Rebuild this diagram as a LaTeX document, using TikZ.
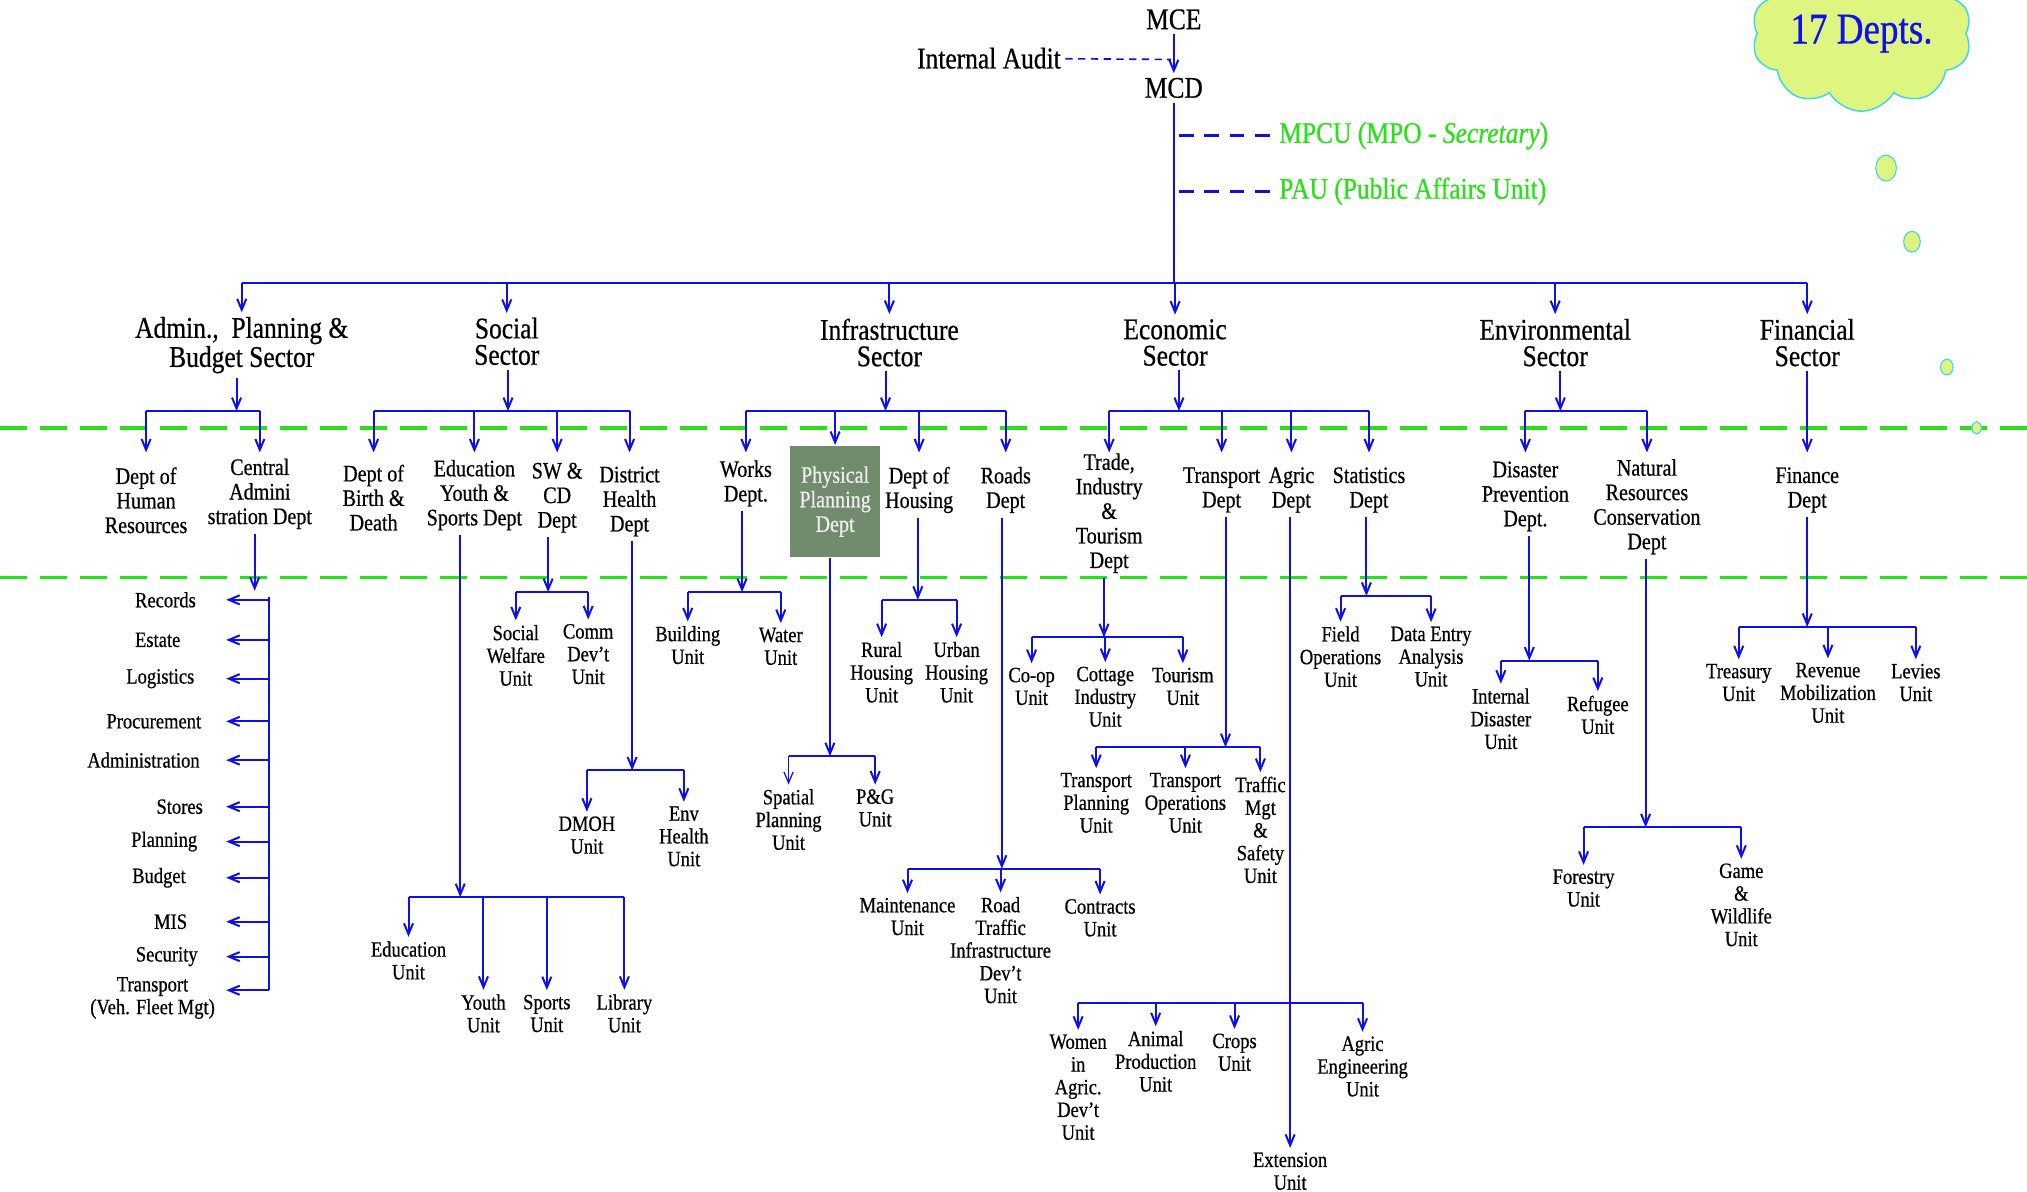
\documentclass[tikz,border=0pt]{standalone}
\usepackage{fontspec}
\setmainfont{Liberation Serif}[FakeStretch=0.85, FakeBold=0.6]
\usepackage{tikz}
\usetikzlibrary{arrows.meta}
\usetikzlibrary{shapes}

\definecolor{linkblue}{RGB}{15,15,235}
\definecolor{sepgreen}{RGB}{40,225,25}
\definecolor{boxgreen}{RGB}{112,140,108}
\definecolor{cloudfill}{RGB}{222,246,128}
\definecolor{cloudline}{RGB}{60,215,235}

\tikzset{
  sector/.style={align=center, font=\fontsize{16.5}{14.5}\selectfont, inner sep=2pt},
  dept/.style={align=center, font=\fontsize{13}{13.5}\selectfont, inner sep=2pt},
  unit/.style={align=center, font=\fontsize{12}{12.5}\selectfont, inner sep=2pt},
  sepline/.style={draw=sepgreen, line width=1.8pt, dash pattern=on 15pt off 7pt},
  bubble/.style={draw=cloudline, fill=cloudfill, line width=0.6pt},
}

\begin{document}
\begin{tikzpicture}[x=0.025cm, y=-0.025cm, draw=linkblue, line width=1.1pt, >={Straight Barb[length=6pt,width=5pt]}]

    \useasboundingbox (0,0) rectangle (1568,922);

    \draw[sepline] (0,331) -- (1568,331);
    \draw[sepline] (0,447) -- (1568,447);

    \node[cloud, cloud puffs=10, cloud puff arc=120, cloud ignores aspect, draw=cloudline, fill=cloudfill, line width=0.8pt, text=linkblue, font=\fontsize{24}{24}\selectfont, minimum width=4.1cm, minimum height=3cm] (depts) at (1440,26) {17 Depts.};
    \draw[bubble] (1459,130) ellipse [x radius=0.2cm, y radius=0.25cm];
    \draw[bubble] (1479,187) ellipse [x radius=0.16cm, y radius=0.2cm];
    \draw[bubble] (1506,284) ellipse [x radius=0.12cm, y radius=0.15cm];
    \draw[bubble] (1529,331) ellipse [x radius=0.09cm, y radius=0.12cm];

    \node[sector] (mce) at (908,15) {MCE};
    \node[sector] (mcd) at (908,68) {MCD};
    \node[sector] (audit) at (765,45) {Internal Audit};
    \node[sector, text=sepgreen, anchor=west] (mpcu) at (986,105) {MPCU (MPO - \textit{Secretary})};
    \node[sector, text=sepgreen, anchor=west] (pau) at (986,148) {PAU (Public Affairs Unit)};

    \node[sector] (admin) at (187,267) {Admin.,\ \ Planning \&\\Budget Sector};
    \node[sector] (social) at (392,264) {Social\\Sector};
    \node[sector] (infra) at (688,265) {Infrastructure\\Sector};
    \node[sector] (econ) at (909,265) {Economic\\Sector};
    \node[sector] (env) at (1203,265) {Environmental\\Sector};
    \node[sector] (fin) at (1398,265) {Financial\\Sector};

    \node[dept] (hr) at (113,387) {Dept of\\Human\\Resources};
    \node[dept] (cad) at (201,382) {Central\\Admini\\stration Dept};
    \node[dept] (birth) at (289,385) {Dept of\\Birth \&\\Death};
    \node[dept] (edu) at (367,383) {Education\\Youth \&\\Sports Dept};
    \node[dept] (swcd) at (431,385) {SW \&\\CD\\Dept};
    \node[dept] (dhd) at (487,388) {District\\Health\\Dept};
    \node[dept] (works) at (577,374) {Works\\Dept.};
    \node[dept, fill=boxgreen, text=gray!12, minimum width=1.75cm, minimum height=2.15cm] (ppd) at (646,388) {Physical\\Planning\\Dept};
    \node[dept] (housing) at (711,379) {Dept of\\Housing};
    \node[dept] (roads) at (778,379) {Roads\\Dept};
    \node[dept] (trade) at (858,397) {Trade,\\Industry\\\&\\Tourism\\Dept};
    \node[dept] (transp) at (945,379) {Transport\\Dept};
    \node[dept] (agric) at (999,379) {Agric\\Dept};
    \node[dept] (stats) at (1059,379) {Statistics\\Dept};
    \node[dept] (disaster) at (1180,384) {Disaster\\Prevention\\Dept.};
    \node[dept] (natres) at (1274,392) {Natural\\Resources\\Conservation\\Dept};
    \node[dept] (finance) at (1398,379) {Finance\\Dept};

    \node[unit] (rec) at (128,464) {Records};
    \node[unit] (est) at (122,495) {Estate};
    \node[unit] (logi) at (124,525) {Logistics};
    \node[unit] (proc) at (119,558) {Procurement};
    \node[unit] (adm) at (111,588) {Administration};
    \node[unit] (sto) at (139,624) {Stores};
    \node[unit] (plan) at (127,651) {Planning};
    \node[unit] (bud) at (123,679) {Budget};
    \node[unit] (mis) at (132,713) {MIS};
    \node[unit] (sec) at (129,740) {Security};
    \node[unit] (trans) at (118,772) {Transport\\(Veh. Fleet Mgt)};

    \node[unit] (swu) at (399,507) {Social\\Welfare\\Unit};
    \node[unit] (cdu) at (455,506) {Comm\\Dev't\\Unit};
    \node[unit] (dmoh) at (454,646) {DMOH\\Unit};
    \node[unit] (envh) at (529,647) {Env\\Health\\Unit};
    \node[unit] (eduu) at (316,743) {Education\\Unit};
    \node[unit] (youth) at (374,784) {Youth\\Unit};
    \node[unit] (sports) at (423,784) {Sports\\Unit};
    \node[unit] (lib) at (483,784) {Library\\Unit};
    \node[unit] (build) at (532,499) {Building\\Unit};
    \node[unit] (water) at (604,500) {Water\\Unit};
    \node[unit] (spatial) at (610,634) {Spatial\\Planning\\Unit};
    \node[unit] (pg) at (677,625) {P\&G\\Unit};
    \node[unit] (rural) at (682,520) {Rural\\Housing\\Unit};
    \node[unit] (urban) at (740,520) {Urban\\Housing\\Unit};
    \node[unit] (maint) at (702,709) {Maintenance\\Unit};
    \node[unit] (rtid) at (774,735) {Road\\Traffic\\Infrastructure\\Dev't\\Unit};
    \node[unit] (contr) at (851,710) {Contracts\\Unit};
    \node[unit] (coop) at (798,531) {Co-op\\Unit};
    \node[unit] (cottage) at (855,539) {Cottage\\Industry\\Unit};
    \node[unit] (tourism) at (915,531) {Tourism\\Unit};
    \node[unit] (tplan) at (848,621) {Transport\\Planning\\Unit};
    \node[unit] (tops) at (917,621) {Transport\\Operations\\Unit};
    \node[unit] (traffic) at (975,642) {Traffic\\Mgt\\\&\\Safety\\Unit};
    \node[unit] (women) at (834,841) {Women\\in\\Agric.\\Dev't\\Unit};
    \node[unit] (animal) at (894,821) {Animal\\Production\\Unit};
    \node[unit] (crops) at (955,814) {Crops\\Unit};
    \node[unit] (agreng) at (1054,825) {Agric\\Engineering\\Unit};
    \node[unit] (ext) at (998,906) {Extension\\Unit};
    \node[unit] (field) at (1037,508) {Field\\Operations\\Unit};
    \node[unit] (dataentry) at (1107,508) {Data Entry\\Analysis\\Unit};
    \node[unit] (intdis) at (1161,556) {Internal\\Disaster\\Unit};
    \node[unit] (refugee) at (1236,553) {Refugee\\Unit};
    \node[unit] (forestry) at (1225,687) {Forestry\\Unit};
    \node[unit] (game) at (1347,700) {Game\\\&\\Wildlife\\Unit};
    \node[unit] (treasury) at (1345,528) {Treasury\\Unit};
    \node[unit] (revenue) at (1414,536) {Revenue\\Mobilization\\Unit};
    \node[unit] (levies) at (1482,528) {Levies\\Unit};

    % junctions
    \coordinate (audit-j) at (906,46);
    \coordinate (mpcu-j) at (912,105);
    \coordinate (pau-j) at (912,148);
    \coordinate (bus) at (907,219);
    \coordinate (dtip) at (0,350);
    \coordinate (admin-j) at (183,318);
    \coordinate (social-j) at (393,318);
    \coordinate (infra-j) at (685,318);
    \coordinate (econ-j) at (912,318);
    \coordinate (env-j) at (1207,318);
    \coordinate (cad-j) at (197,457);
    \coordinate (list-t) at (208,462);
    \coordinate (list-b) at (208,766);
    \coordinate (list-tip) at (175,0);
    \coordinate (swcd-j) at (424,458);
    \coordinate (dhd-j) at (489,596);
    \coordinate (edu-j) at (356,694);
    \coordinate (works-j) at (574,458);
    \coordinate (ppd-j) at (642,585);
    \coordinate (housing-j) at (710,464);
    \coordinate (roads-j) at (775,672);
    \coordinate (trade-j) at (854,493);
    \coordinate (transp-j) at (948,578);
    \coordinate (agric-j) at (997,776);
    \coordinate (stats-j) at (1057,461);
    \coordinate (disaster-j) at (1183,511);
    \coordinate (natres-j) at (1273,640);
    \coordinate (finance-j) at (1398,485);

    % Edges
    \draw[->] (mce) -- (mcd);
    \draw[line width=0.9pt, dash pattern=on 4pt off 3pt] (audit) -- (audit-j);
    \draw (mcd) -- (mcd |- bus);
    \draw[line width=1.5pt, dash pattern=on 8pt off 6pt] (mpcu-j) -- (mpcu);
    \draw[line width=1.5pt, dash pattern=on 8pt off 6pt] (pau-j) -- (pau);

    \draw (admin |- bus) -- (fin |- bus);
    \draw[->] (admin |- bus) -- (admin);
    \draw[->] (social |- bus) -- (social);
    \draw[->] (infra |- bus) -- (infra);
    \draw[->] (econ |- bus) -- (econ);
    \draw[->] (env |- bus) -- (env);
    \draw[->] (fin |- bus) -- (fin);

    \draw[->] (admin.south -| admin-j) -- (admin-j);
    \draw (hr |- admin-j) -- (cad |- admin-j);
    \draw[->] (hr |- admin-j) -- (hr |- dtip);
    \draw[->] (cad |- admin-j) -- (cad |- dtip);

    \draw[->] (social.south -| social-j) -- (social-j);
    \draw (birth |- social-j) -- (dhd |- social-j);
    \draw[->] (birth |- social-j) -- (birth |- dtip);
    \draw[->] (edu |- social-j) -- (edu |- dtip);
    \draw[->] (swcd |- social-j) -- (swcd |- dtip);
    \draw[->] (dhd |- social-j) -- (dhd |- dtip);

    \draw[->] (infra.south -| infra-j) -- (infra-j);
    \draw (works |- infra-j) -- (roads |- infra-j);
    \draw[->] (works |- infra-j) -- (works |- dtip);
    \draw[->] (ppd |- infra-j) -- (ppd);
    \draw[->] (housing |- infra-j) -- (housing |- dtip);
    \draw[->] (roads |- infra-j) -- (roads |- dtip);

    \draw[->] (econ.south -| econ-j) -- (econ-j);
    \draw (trade |- econ-j) -- (stats |- econ-j);
    \draw[->] (trade |- econ-j) -- (trade |- dtip);
    \draw[->] (transp |- econ-j) -- (transp |- dtip);
    \draw[->] (agric |- econ-j) -- (agric |- dtip);
    \draw[->] (stats |- econ-j) -- (stats |- dtip);

    \draw[->] (env.south -| env-j) -- (env-j);
    \draw (disaster |- env-j) -- (natres |- env-j);
    \draw[->] (disaster |- env-j) -- (disaster |- dtip);
    \draw[->] (natres |- env-j) -- (natres |- dtip);

    \draw[->] (fin) -- (finance |- dtip);

    \draw[->] (cad.south -| cad-j) -- (cad-j);
    \draw (list-t) -- (list-b);
    \draw[->] (rec -| list-t) -- (rec -| list-tip);
    \draw[->] (est -| list-t) -- (est -| list-tip);
    \draw[->] (logi -| list-t) -- (logi -| list-tip);
    \draw[->] (proc -| list-t) -- (proc -| list-tip);
    \draw[->] (adm -| list-t) -- (adm -| list-tip);
    \draw[->] (sto -| list-t) -- (sto -| list-tip);
    \draw[->] (plan -| list-t) -- (plan -| list-tip);
    \draw[->] (bud -| list-t) -- (bud -| list-tip);
    \draw[->] (mis -| list-t) -- (mis -| list-tip);
    \draw[->] (sec -| list-t) -- (sec -| list-tip);
    \draw[->] (list-b) -- (list-b -| list-tip);

    \draw[->] (swcd.south -| swcd-j) -- (swcd-j);
    \draw (swu |- swcd-j) -- (cdu |- swcd-j);
    \draw[->] (swu |- swcd-j) -- (swu);
    \draw[->] (cdu |- swcd-j) -- (cdu);

    \draw[->] (dhd.south -| dhd-j) -- (dhd-j);
    \draw (dmoh |- dhd-j) -- (envh |- dhd-j);
    \draw[->] (dmoh |- dhd-j) -- (dmoh);
    \draw[->] (envh |- dhd-j) -- (envh);

    \draw[->] (edu.south -| edu-j) -- (edu-j);
    \draw[line width=0.8pt] (eduu |- edu-j) -- (lib |- edu-j);
    \draw[->] (eduu |- edu-j) -- (eduu);
    \draw[->] (youth |- edu-j) -- (youth);
    \draw[->] (sports |- edu-j) -- (sports);
    \draw[->] (lib |- edu-j) -- (lib);

    \draw[->] (works.south -| works-j) -- (works-j);
    \draw (build |- works-j) -- (water |- works-j);
    \draw[->] (build |- works-j) -- (build);
    \draw[->] (water |- works-j) -- (water);

    \draw[->] (ppd.south -| ppd-j) -- (ppd-j);
    \draw (spatial |- ppd-j) -- (pg |- ppd-j);
    \draw[->, line width=0.7pt] (spatial |- ppd-j) -- (spatial);
    \draw[->] (pg |- ppd-j) -- (pg);

    \draw[->] (housing.south -| housing-j) -- (housing-j);
    \draw (rural |- housing-j) -- (urban |- housing-j);
    \draw[->] (rural |- housing-j) -- (rural);
    \draw[->] (urban |- housing-j) -- (urban);

    \draw[->] (roads.south -| roads-j) -- (roads-j);
    \draw (maint |- roads-j) -- (contr |- roads-j);
    \draw[->] (maint |- roads-j) -- (maint);
    \draw[->] (rtid |- roads-j) -- (rtid);
    \draw[->] (contr |- roads-j) -- (contr);

    \draw[->] (trade.south -| trade-j) -- (trade-j);
    \draw (coop |- trade-j) -- (tourism |- trade-j);
    \draw[->] (coop |- trade-j) -- (coop);
    \draw[->] (cottage |- trade-j) -- (cottage);
    \draw[->] (tourism |- trade-j) -- (tourism);

    \draw[->] (transp.south -| transp-j) -- (transp-j);
    \draw (tplan |- transp-j) -- (traffic |- transp-j);
    \draw[->] (tplan |- transp-j) -- (tplan);
    \draw[->] (tops |- transp-j) -- (tops);
    \draw[->] (traffic |- transp-j) -- (traffic);

    \draw[->] (agric.south -| ext) -- (ext);
    \draw (women |- agric-j) -- (agreng |- agric-j);
    \draw[->] (women |- agric-j) -- (women);
    \draw[->] (animal |- agric-j) -- (animal);
    \draw[->] (crops |- agric-j) -- (crops);
    \draw[->] (agreng |- agric-j) -- (agreng);

    \draw[->] (stats.south -| stats-j) -- (stats-j);
    \draw (field |- stats-j) -- (dataentry |- stats-j);
    \draw[->] (field |- stats-j) -- (field);
    \draw[->] (dataentry |- stats-j) -- (dataentry);

    \draw[->] (disaster.south -| disaster-j) -- (disaster-j);
    \draw (intdis |- disaster-j) -- (refugee |- disaster-j);
    \draw[->] (intdis |- disaster-j) -- (intdis);
    \draw[->] (refugee |- disaster-j) -- (refugee);

    \draw[->] (natres.south -| natres-j) -- (natres-j);
    \draw (forestry |- natres-j) -- (game |- natres-j);
    \draw[->] (forestry |- natres-j) -- (forestry);
    \draw[->] (game |- natres-j) -- (game);

    \draw[->] (finance.south -| finance-j) -- (finance-j);
    \draw (treasury |- finance-j) -- (levies |- finance-j);
    \draw[->] (treasury |- finance-j) -- (treasury);
    \draw[->] (revenue |- finance-j) -- (revenue);
    \draw[->] (levies |- finance-j) -- (levies);

\end{tikzpicture}
\end{document}
